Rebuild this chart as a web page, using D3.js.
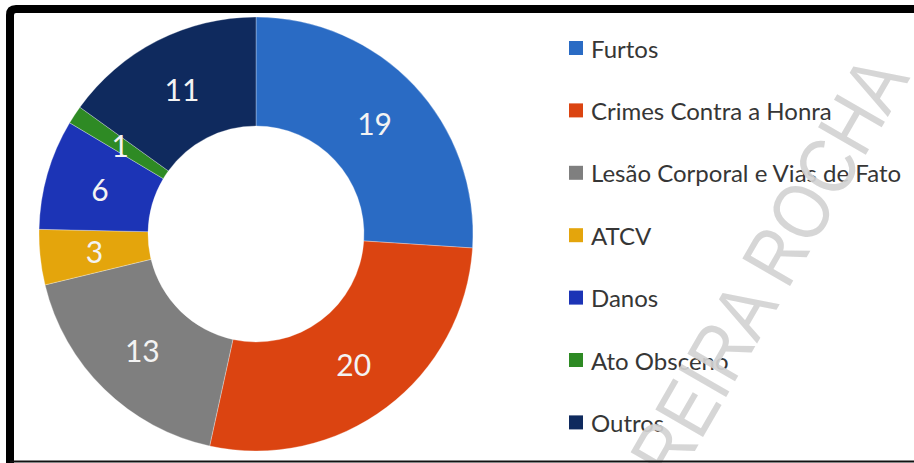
<!DOCTYPE html>
<html>
<head>
<meta charset="utf-8">
<script src="https://cdn.jsdelivr.net/npm/d3@7"></script>
<style>
  html, body { margin: 0; padding: 0; background: #fff; }
  svg { display: block; }
</style>
</head>
<body>
<svg id="chart" width="914" height="463"></svg>
<script>
const categories = ["Furtos", "Crimes Contra a Honra", "Lesão Corporal e Vias de Fato", "ATCV", "Danos", "Ato Obsceno", "Outros"];
const values = [19, 20, 13, 3, 6, 1, 11];
const colors = ["#2a6bc4", "#db4411", "#7f7f7f", "#e4a50c", "#1c34b6", "#2e8a24", "#0f2a5e"];
const watermark = "REIRA ROCHA";

const svg = d3.select("#chart");
const W = 914, H = 463;
const cx = 256, cy = 234, R = 217, r = 108;
const fontFam = "Lato, 'Open Sans', 'DejaVu Sans', sans-serif";

const data = categories.map((c, i) => ({ name: c, value: values[i], color: colors[i] }));

const pie = d3.pie().value(d => d.value).sort(null);
const arc = d3.arc().innerRadius(r).outerRadius(R);
const arcs = pie(data);

const g = svg.append("g").attr("transform", `translate(${cx},${cy})`);
g.selectAll("path.slice").data(arcs).join("path")
  .attr("class", "slice")
  .attr("d", arc)
  .attr("fill", d => d.data.color)
  .attr("stroke", "#ffffff")
  .attr("stroke-opacity", 0.5)
  .attr("stroke-width", 0.6);

g.selectAll("text.lbl").data(arcs).join("text")
  .attr("class", "lbl")
  .attr("x", d => arc.centroid(d)[0])
  .attr("y", d => arc.centroid(d)[1])
  .attr("text-anchor", "middle")
  .attr("dominant-baseline", "central")
  .attr("font-family", fontFam)
  .attr("font-size", 30)
  .attr("fill", "#f3f3f3")
  .text(d => d.data.value);

// Legend
const legendX = 569, legendY0 = 48, legendStep = 62.4;
const lg = svg.append("g");
const rows = lg.selectAll("g.row").data(data).join("g")
  .attr("class", "row")
  .attr("transform", (d, i) => `translate(${legendX},${legendY0 + i * legendStep})`);
rows.append("rect")
  .attr("x", 0).attr("y", -7).attr("width", 14).attr("height", 14)
  .attr("fill", d => d.color);
const texts = rows.append("text")
  .attr("x", 22).attr("y", 0)
  .attr("dominant-baseline", "central")
  .attr("font-family", fontFam)
  .attr("font-size", 22)
  .attr("fill", "#363636")
  .text(d => d.name);
let maxW = 0;
texts.each(function() { maxW = Math.max(maxW, this.getComputedTextLength()); });
if (maxW > 0) {
  const fs = 22 * 312 / maxW;
  texts.attr("font-size", Math.min(24, Math.max(18, fs)));
}

// Watermark
svg.append("text")
  .attr("transform", "translate(793,281) rotate(-60)")
  .attr("text-anchor", "middle")
  .attr("font-family", "'Liberation Sans', Arial, sans-serif")
  .attr("font-size", 80)
  .attr("textLength", 470)
  .attr("lengthAdjust", "spacingAndGlyphs")
  .attr("fill", "#d2d2d2")
  .attr("fill-opacity", 0.92)
  .text(watermark);

// Frame
svg.append("path")
  .attr("d", `M10,${H + 2} V15 Q10,9 16,9 H${W + 5}`)
  .attr("fill", "none")
  .attr("stroke", "#000")
  .attr("stroke-width", 8);
svg.append("line")
  .attr("x1", 10).attr("x2", W)
  .attr("y1", 461.5).attr("y2", 461.5)
  .attr("stroke", "#111")
  .attr("stroke-width", 2);
</script>
</body>
</html>
